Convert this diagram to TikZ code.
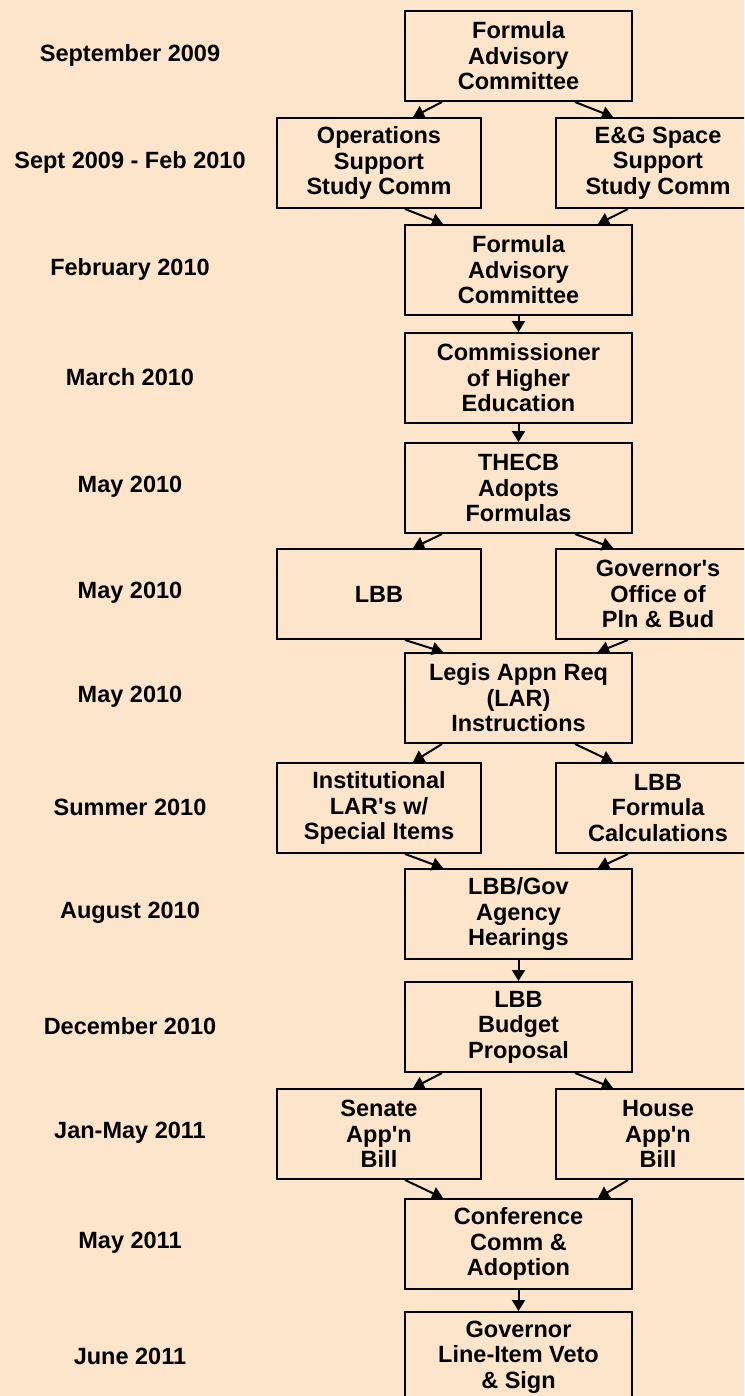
\documentclass[tikz,border=0pt]{standalone}
\usepackage{fontspec}
\setmainfont{Liberation Sans}
\usetikzlibrary{arrows.meta,calc}
\definecolor{bg}{RGB}{252,229,202}
\newcommand{\apos}{\textquotesingle}
\begin{document}
\begin{tikzpicture}[x=1pt,y=-1pt,
  txt/.style={font=\fontsize{23.5}{25.5}\selectfont\bfseries, align=center, inner sep=0pt},
  box/.style={txt, draw, line width=2pt, minimum height=90pt, anchor=north west},
  cbox/.style={box, minimum width=227pt},
  sbox/.style={box, minimum width=204pt},
  lab/.style={txt},
  arr/.style={line width=2pt, -{Triangle[length=11pt,width=13pt]}}]
\fill[bg] (0,0) rectangle (744,1396);
\useasboundingbox (0,0) rectangle (744,1396);
\begin{scope}
\clip (0,0) rectangle (744,1396);
% boxes
\node[cbox] (c1) at (404,10) {Formula\\Advisory\\Committee};
\node[sbox] (l2) at (276,117) {Operations\\Support\\Study Comm};
\node[sbox] (r2) at (555,117) {E\&G Space\\Support\\Study Comm};
\node[cbox] (c3) at (404,224) {Formula\\Advisory\\Committee};
\node[cbox] (c4) at (404,332) {Commissioner\\of Higher\\Education};
\node[cbox] (c5) at (404,442) {THECB\\Adopts\\Formulas};
\node[sbox] (l6) at (276,548) {LBB};
\node[sbox] (r6) at (555,548) {Governor\apos s\\Office of\\Pln \& Bud};
\node[cbox] (c7) at (404,652) {Legis Appn Req\\(LAR)\\Instructions};
\node[sbox] (l8) at (276,762) {Institutional\\LAR\apos s w/\\Special Items};
\node[sbox] (r8) at (555,762) {LBB\\Formula\\Calculations};
\node[cbox] (c9) at (404,868) {LBB/Gov\\Agency\\Hearings};
\node[cbox] (c10) at (404,981) {LBB\\Budget\\Proposal};
\node[sbox] (l11) at (276,1088) {Senate\\App\apos n\\Bill};
\node[sbox] (r11) at (555,1088) {House\\App\apos n\\Bill};
\node[cbox] (c12) at (404,1198) {Conference\\Comm \&\\Adoption};
\node[cbox] (c13) at (404,1311) {Governor\\Line-Item Veto\\\& Sign};
% labels
\node[lab] (t1) at (130,55) {September 2009};
\node[lab] (t2) at (130,162) {Sept 2009 - Feb 2010};
\node[lab] (t3) at (130,269) {February 2010};
\node[lab] (t4) at (130,377) {March 2010};
\node[lab] (t5) at (130,487) {May 2010};
\node[lab] (t6) at (130,593) {May 2010};
\node[lab] (t7) at (130,697) {May 2010};
\node[lab] (t8) at (130,807) {Summer 2010};
\node[lab] (t9) at (130,913) {August 2010};
\node[lab] (t10) at (130,1026) {December 2010};
\node[lab] (t11) at (130,1133) {Jan-May 2011};
\node[lab] (t12) at (130,1243) {May 2011};
\node[lab] (t13) at (130,1356) {June 2011};
% splits
\foreach \c/\l/\r in {c1/l2/r2, c5/l6/r6, c7/l8/r8, c10/l11/r11}{
  \draw[arr] ($(\c.south west)+(38,0)$) -- ($(\l.north west)+(137,0)$);
  \draw[arr] ($(\c.south west)+(171,0)$) -- ($(\r.north west)+(58,0)$);
}
% merges
\foreach \l/\r/\c in {l2/r2/c3, l6/r6/c7, l8/r8/c9, l11/r11/c12}{
  \draw[arr] ($(\l.south west)+(129,0)$) -- ($(\c.north west)+(39,0)$);
  \draw[arr] ($(\r.south west)+(73,0)$) -- ($(\c.north west)+(194,0)$);
}
% straight
\foreach \a/\b in {c3/c4, c4/c5, c9/c10, c12/c13}{
  \draw[arr] (\a.south) -- (\b.north);
}
\end{scope}
\end{tikzpicture}
\end{document}
